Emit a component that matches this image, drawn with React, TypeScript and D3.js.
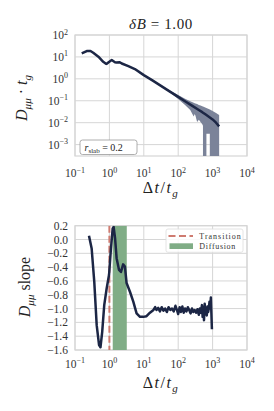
import React from "react";
import * as d3 from "d3";

// ---------- data ----------
const xTickExps = [-1, 0, 1, 2, 3, 4];
const yTopTickExps = [-3, -2, -1, 0, 1, 2];
const yBotTicks = [0.2, 0.0, -0.2, -0.4, -0.6, -0.8, -1.0, -1.2, -1.4, -1.6];

const dtTop = [0.157, 0.219, 0.282, 0.339, 0.479, 0.661, 0.794, 0.832, 0.95, 1.17, 1.45, 1.62, 2.0, 2.29, 3.55, 5.5, 10, 17.8, 31.6, 56, 100, 158, 251, 398, 501, 631, 794, 1000, 1259, 1549];
const dmmTop = [14.6, 18.6, 18.6, 15.5, 10.2, 6.0, 4.9, 4.8, 5.75, 7.2, 5.75, 5.5, 5.75, 5.0, 3.8, 2.8, 1.48, 0.851, 0.479, 0.269, 0.151, 0.0955, 0.0603, 0.038, 0.0302, 0.0234, 0.0182, 0.0141, 0.01, 0.00676];

const bandT = [31.6, 63, 100, 158, 224, 282, 302, 316, 355, 398, 447, 501, 525, 526, 660, 661, 830, 832, 1000, 1259, 1549];
const bandLo = [0.468, 0.214, 0.12, 0.0646, 0.038, 0.0191, 0.0251, 0.0214, 0.0107, 0.0135, 0.0107, 0.0085, 0.00724, 1e-6, 1e-6, 0.00316, 0.00316, 1e-6, 1e-6, 1e-6, 1e-6];
const bandHi = [0.49, 0.269, 0.182, 0.123, 0.0955, 0.0813, 0.0776, 0.0759, 0.0708, 0.0646, 0.0603, 0.0562, 0.055, 0.055, 0.0468, 0.0468, 0.0398, 0.0398, 0.0339, 0.0275, 0.0224];

const dtSlope = [0.255, 0.305, 0.363, 0.427, 0.501, 0.55, 0.617, 0.708, 0.832, 0.977, 1.11, 1.245, 1.33, 1.46, 1.62, 1.905, 2.17, 2.51, 2.82, 3.16, 3.98, 4.95, 6.17, 7.76, 9.66, 12.0, 15.1, 19.1, 21.4, 23.4, 26.3, 29.5, 33.1, 37.2, 41.7, 46.8, 52.5, 58.9, 66.1, 74.1, 83.2, 93.3, 100, 110, 120, 132, 145, 158, 174, 191, 209, 229, 251, 275, 302, 331, 363, 398, 427, 457, 490, 513, 537, 562, 589, 617, 646, 676, 708, 741, 776, 813, 851, 891, 955];
const slopeVals = [0.055, -0.13, -0.61, -1.24, -1.53, -1.56, -1.34, -0.95, -0.71, -0.51, -0.13, 0.16, 0.18, 0.02, -0.27, -0.44, -0.47, -0.36, -0.39, -0.63, -0.76, -0.9, -1.07, -1.12, -1.12, -1.11, -1.06, -1.02, -0.98, -1.02, -0.99, -1.04, -0.98, -1.03, -1.0, -1.05, -0.98, -1.02, -1.0, -1.04, -0.96, -1.03, -1.08, -0.98, -1.05, -0.97, -1.06, -1.0, -1.04, -0.98, -1.02, -1.07, -1.0, -1.05, -1.02, -1.06, -1.01, -1.09, -1.0, -1.06, -0.95, -1.12, -0.98, -1.17, -0.93, -1.08, -1.02, -1.1, -0.97, -1.05, -1.0, -0.9, -1.0, -0.84, -1.3];

const transitionT = 1.0;
const diffusionRange = [1.25, 3.2];

// ---------- layout ----------
const W = 274, H = 411;
const X0 = 75, X1 = 247;
const T0 = 35, T1 = 156;
const B0 = 225.7, B1 = 350;
const FONT = "Liberation Serif, DejaVu Serif, serif";
const GRID = "#d6d6d6";
const LINE = "#1c2645";
const TICK = 11.5;

const x = d3.scaleLog().domain([0.1, 1e4]).range([X0, X1]);
const yTop = d3.scaleLog().domain([Math.pow(10, -3.52), 100]).range([T1, T0]);
const yBot = d3.scaleLinear().domain([-1.6, 0.2]).range([B1, B0]);

const sup = (e: number) => (e < 0 ? "\u2212" + Math.abs(e) : String(e));

function Pow10({ x: px, y: py, e, anchor }: { x: number; y: number; e: number; anchor: string }) {
  return (
    <text x={px} y={py} textAnchor={anchor} fontSize={TICK} fill="#333">
      10<tspan dy={-4.5} fontSize={8}>{sup(e)}</tspan>
    </text>
  );
}

function XLabel({ y }: { y: number }) {
  return (
    <text x={161} y={y} textAnchor="middle" fontSize={16} fill="#222" letterSpacing={1.5}>
      Δ<tspan fontStyle="italic">t</tspan>/<tspan fontStyle="italic">t</tspan>
      <tspan fontStyle="italic" fontSize={11} dy={3.5}>g</tspan>
    </text>
  );
}

export default function App() {
  const topLine = d3.line<number>().x((_, i) => x(dtTop[i])).y((d) => yTop(d))(dmmTop) || "";
  const band = d3
    .area<number>()
    .x((_, i) => x(bandT[i]))
    .y0((_, i) => yTop(bandLo[i]))
    .y1((_, i) => yTop(bandHi[i]))(bandT) || "";
  const botLine = d3.line<number>().x((_, i) => x(dtSlope[i])).y((d) => yBot(d))(slopeVals) || "";

  return (
    <svg width={W} height={H} style={{ position: "absolute", left: 0, top: 0, background: "#fff", fontFamily: FONT }}>
      <defs>
        <clipPath id="clipTop"><rect x={X0} y={T0} width={X1 - X0} height={T1 - T0} /></clipPath>
        <clipPath id="clipBot"><rect x={X0} y={B0} width={X1 - X0} height={B1 - B0} /></clipPath>
      </defs>

      {/* ---------- top panel ---------- */}
      <text x={161} y={29} textAnchor="middle" fontSize={15} fill="#222" letterSpacing={0.6}>
        <tspan fontStyle="italic">δB</tspan> = 1.00
      </text>
      {xTickExps.map((e) => (
        <line key={"tv" + e} x1={x(Math.pow(10, e))} x2={x(Math.pow(10, e))} y1={T0} y2={T1} stroke={GRID} strokeWidth={1} />
      ))}
      {yTopTickExps.map((e) => (
        <line key={"th" + e} x1={X0} x2={X1} y1={yTop(Math.pow(10, e))} y2={yTop(Math.pow(10, e))} stroke={GRID} strokeWidth={1} />
      ))}
      <rect x={X0} y={T0} width={X1 - X0} height={T1 - T0} fill="none" stroke={GRID} strokeWidth={1.2} />
      <g clipPath="url(#clipTop)">
        <path d={band} fill="#7b8399" />
        <path d={topLine} fill="none" stroke={LINE} strokeWidth={2.5} strokeLinejoin="round" />
      </g>
      {xTickExps.map((e) => (
        <Pow10 key={"tx" + e} x={x(Math.pow(10, e))} y={177} e={e} anchor="middle" />
      ))}
      {yTopTickExps.map((e) => (
        <Pow10 key={"ty" + e} x={68} y={yTop(Math.pow(10, e)) + 4} e={e} anchor="end" />
      ))}
      <rect x={80} y={140} width={57} height={14.5} rx={2.5} fill="#fff" stroke="#999" strokeWidth={0.8} />
      <text x={84.5} y={150.5} fontSize={10} fill="#222">
        <tspan fontStyle="italic">r</tspan>
        <tspan fontSize={7} dy={2}>slab</tspan>
        <tspan dy={-2}> = 0.2</tspan>
      </text>
      <XLabel y={193} />
      <text transform="translate(27,98) rotate(-90)" textAnchor="middle" fontSize={16} fill="#222">
        <tspan fontStyle="italic">D</tspan>
        <tspan fontStyle="italic" fontSize={11} dy={3.5}>μμ</tspan>
        <tspan dy={-3.5}> · </tspan>
        <tspan fontStyle="italic">t</tspan>
        <tspan fontStyle="italic" fontSize={11} dy={3.5}>g</tspan>
      </text>

      {/* ---------- bottom panel ---------- */}
      {xTickExps.map((e) => (
        <line key={"bv" + e} x1={x(Math.pow(10, e))} x2={x(Math.pow(10, e))} y1={B0} y2={B1} stroke={GRID} strokeWidth={1} />
      ))}
      {yBotTicks.map((v) => (
        <line key={"bh" + v} x1={X0} x2={X1} y1={yBot(v)} y2={yBot(v)} stroke={GRID} strokeWidth={1} />
      ))}
      <rect x={X0} y={B0} width={X1 - X0} height={B1 - B0} fill="none" stroke={GRID} strokeWidth={1.2} />
      <g clipPath="url(#clipBot)">
        <rect x={x(diffusionRange[0])} y={B0} width={x(diffusionRange[1]) - x(diffusionRange[0])} height={B1 - B0} fill="#80ad86" />
        <line x1={x(transitionT)} x2={x(transitionT)} y1={B0} y2={B1} stroke="#cf7b70" strokeWidth={2} strokeDasharray="7,3" />
        <path d={botLine} fill="none" stroke={LINE} strokeWidth={2.5} strokeLinejoin="round" />
      </g>
      {xTickExps.map((e) => (
        <Pow10 key={"bx" + e} x={x(Math.pow(10, e))} y={367.5} e={e} anchor="middle" />
      ))}
      {yBotTicks.map((v) => (
        <text key={"by" + v} x={68} y={yBot(v) + 4} textAnchor="end" fontSize={TICK} fill="#333">
          {d3.format(".1f")(v).replace("-", "\u2212")}
        </text>
      ))}
      <rect x={166} y={229} width={77} height={23.3} rx={2} fill="#fff" fillOpacity={0.85} stroke="#ddd" strokeWidth={0.8} />
      <line x1={168.5} x2={193} y1={236} y2={236} stroke="#cf7b70" strokeWidth={2} strokeDasharray="7,3.5" />
      <rect x={169.5} y={243.3} width={23.5} height={5.7} fill="#80ad86" />
      <text x={199.3} y={238.8} fontSize={8} fill="#333" textLength={41.5}>Transition</text>
      <text x={199.3} y={249.2} fontSize={8} fill="#333" textLength={36}>Diffusion</text>
      <XLabel y={388} />
      <text transform="translate(30,287) rotate(-90)" textAnchor="middle" fontSize={16} fill="#222">
        <tspan fontStyle="italic">D</tspan>
        <tspan fontStyle="italic" fontSize={11} dy={3.5}>μμ</tspan>
        <tspan dy={-3.5}> slope</tspan>
      </text>
    </svg>
  );
}
